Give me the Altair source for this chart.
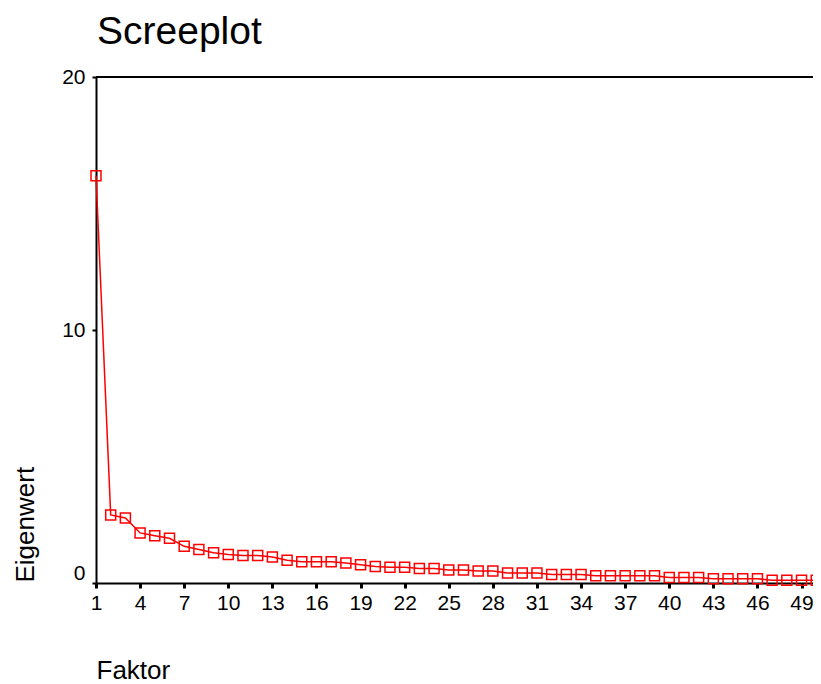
import altair as alt
import pandas as pd

factors = list(range(1, 51))
eigenvalues = [
    16.1, 2.69, 2.57, 1.98, 1.87, 1.77, 1.45, 1.32, 1.20, 1.13,
    1.09, 1.09, 1.03, 0.90, 0.84, 0.84, 0.84, 0.79, 0.72, 0.65,
    0.62, 0.62, 0.57, 0.57, 0.51, 0.51, 0.47, 0.47, 0.40, 0.40,
    0.40, 0.34, 0.34, 0.34, 0.29, 0.29, 0.29, 0.29, 0.29, 0.22,
    0.22, 0.22, 0.17, 0.17, 0.17, 0.17, 0.11, 0.11, 0.11, 0.11,
]
x_ticks = list(range(1, 50, 3))
y_ticks = [0, 10, 20]

df = pd.DataFrame({"Faktor": factors, "Eigenwert": eigenvalues})

FONT = "Liberation Sans"

x_enc = alt.X(
    "Faktor:Q",
    scale=alt.Scale(domain=[1, 49.78], nice=False, zero=False),
    axis=alt.Axis(
        values=x_ticks, title="Faktor", grid=False,
        domainColor="black", domainWidth=2,
        tickColor="black", tickWidth=3, tickSize=5,
        labelFontSize=21, labelFont=FONT, labelColor="black", labelPadding=4,
        labelFlush=False,
        titleFontSize=26, titleFont=FONT, titleFontWeight="normal", titleColor="black",
        titleX=0, titleY=95, titleAlign="left", titleBaseline="alphabetic",
        titleAnchor="start",
    ),
)
y_enc = alt.Y(
    "Eigenwert:Q",
    scale=alt.Scale(domain=[0, 20], nice=False),
    axis=alt.Axis(
        values=y_ticks, title="Eigenwert", grid=False, format="d",
        domainColor="black", domainWidth=2,
        tickColor="black", tickWidth=2, tickSize=4,
        labelFontSize=21, labelFont=FONT, labelColor="black", labelPadding=7,
        labelBaseline={"condition": {"test": "datum.value == 0", "value": "bottom"}, "value": "middle"},
        labelFlush=False,
        titleFontSize=26, titleFont=FONT, titleFontWeight="normal", titleColor="black",
        titleX=-63, titleY=505, titleAngle=270, titleAlign="left",
        titleBaseline="alphabetic", titleAnchor="start",
    ),
)

line = alt.Chart(df).mark_line(color="#ff0000", strokeWidth=1.5).encode(x=x_enc, y=y_enc)
pts = alt.Chart(df).mark_point(
    shape="square", size=100, filled=False, color="#ff0000", strokeWidth=1.5,
    opacity=1,
).encode(x="Faktor:Q", y="Eigenwert:Q")
top = alt.Chart(pd.DataFrame({"v": [20]})).mark_rule(color="black", strokeWidth=2).encode(
    y="v:Q"
)

chart = alt.layer(line, pts, top).properties(
    width=717,
    height=506,
    title=alt.TitleParams(
        "Screeplot", anchor="start", frame="group", fontSize=39, font=FONT,
        fontWeight="normal", color="black", offset=14, dx=1,
    ),
    autosize=alt.AutoSizeParams(type="none"),
    padding={"left": 88, "top": 69, "right": 0, "bottom": 100},
).configure_view(stroke=None).configure(background="white")

chart.save("out.html", embed_options={"renderer": "svg", "actions": False})
